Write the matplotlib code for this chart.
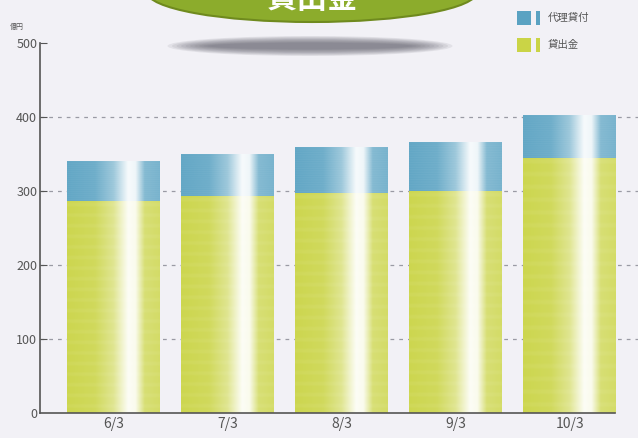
import matplotlib
matplotlib.use("Agg")
import matplotlib.pyplot as plt
import numpy as np
from matplotlib.patches import Ellipse, Rectangle

plt.rcParams['font.family'] = ['Noto Sans CJK JP', 'DejaVu Sans']

# 貸出金残高（億円）
years = ['6/3', '7/3', '8/3', '9/3', '10/3']
loans = [286, 293, 297, 300, 345]          # 貸出金
agency = [54, 56, 61, 65, 58]              # 代理貸付
yticks = [0, 100, 200, 300, 400, 500]

GREEN = np.array([202, 212, 70]) / 255
BLUE = np.array([90, 162, 194]) / 255
BG = '#f2f1f6'


def bar_texture(color, h=120, w=100):
    # colour on the left, fading to white, then colour again at the right edge
    t = np.linspace(0, 1, w)
    k = np.interp(t, [0, 0.3, 0.5, 0.66, 0.74, 0.84, 1.0],
                  [0.95, 0.88, 0.6, 0.05, 0.1, 0.75, 0.82])
    rows = np.arange(h)
    stripe = 1 - 0.05 * (np.sin(rows * 2 * np.pi / 6) > 0.3)
    k2 = k[None, :] * stripe[:, None]
    img = 1 - k2[..., None] * (1 - color[None, None, :])
    return img


fig = plt.figure(figsize=(6.38, 4.38), dpi=100)
fig.patch.set_facecolor(BG)
ax = fig.add_axes([40 / 638, 25 / 438, 598 / 638, 370 / 438])
ax.set_facecolor(BG)

x = np.arange(len(years))
width = 0.815

for y in yticks[1:5]:
    ax.plot([-0.645, 4.6], [y, y], ls=(0, (3, 4)), color='#9a9aa4', lw=0.9,
            zorder=1, clip_on=False)

bars_g = ax.bar(x, loans, width, color='none', zorder=2)
bars_b = ax.bar(x, agency, width, bottom=loans, color='none', zorder=2)
for bars, col in [(bars_g, GREEN), (bars_b, BLUE)]:
    for b in bars:
        x0, y0 = b.get_x(), b.get_y()
        ax.imshow(bar_texture(col), extent=[x0, x0 + b.get_width(), y0, y0 + b.get_height()],
                  aspect='auto', interpolation='bilinear', zorder=2)

ax.set_xlim(-0.645, 4.6)
ax.set_ylim(0, 500)
for s in ['top', 'right']:
    ax.spines[s].set_visible(False)
for s in ['left', 'bottom']:
    ax.spines[s].set_color('#555555')
    ax.spines[s].set_linewidth(1.2)
ax.spines['bottom'].set_bounds(-0.645, 4.4)
ax.set_yticks(yticks)
ax.tick_params(axis='y', direction='in', length=5, color='#555555', labelsize=9,
               labelcolor='#555555', pad=2)
ax.set_xticks(x)
ax.set_xticklabels(years)
ax.tick_params(axis='x', length=0, labelsize=10, labelcolor='#555555', pad=3)
ax.yaxis.get_major_ticks()[0].tick1line.set_visible(False)

fig.text(17 / 638, 1 - 27 / 438, '億円', fontsize=5, color='#555555', ha='center', va='center')

# 見出しの楕円と影
for i in range(10):
    fig.patches.append(Ellipse((310 / 638, 1 - 46 / 438), (285 - i * 9) / 638, (20 - i * 1.5) / 438,
                               transform=fig.transFigure, color='#5a5a66', alpha=0.1, lw=0))
fig.patches.append(Ellipse((312 / 638, 1 + 8 / 438), 330 / 638, 60 / 438,
                           transform=fig.transFigure, facecolor='#8cac2c',
                           edgecolor='#6f8a1e', lw=1.5))
fig.text(312 / 638, 1 + 1 / 438, '貸出金', fontsize=22, fontweight='bold', color='white',
         ha='center', va='center')

# 凡例
legend_items = [('代理貸付', BLUE, 18), ('貸出金', GREEN, 45)]
for label, col, yc in legend_items:
    fig.patches.append(Rectangle((517 / 638, 1 - (yc + 7) / 438), 14 / 638, 14 / 438,
                                 transform=fig.transFigure, color=col, lw=0))
    fig.patches.append(Rectangle((536 / 638, 1 - (yc + 7) / 438), 4 / 638, 14 / 438,
                                 transform=fig.transFigure, color=col, lw=0))
    fig.text(548 / 638, 1 - yc / 438, label, fontsize=7.5, color='#555555',
             ha='left', va='center')

fig.savefig('out.png', dpi=100, facecolor=BG)
